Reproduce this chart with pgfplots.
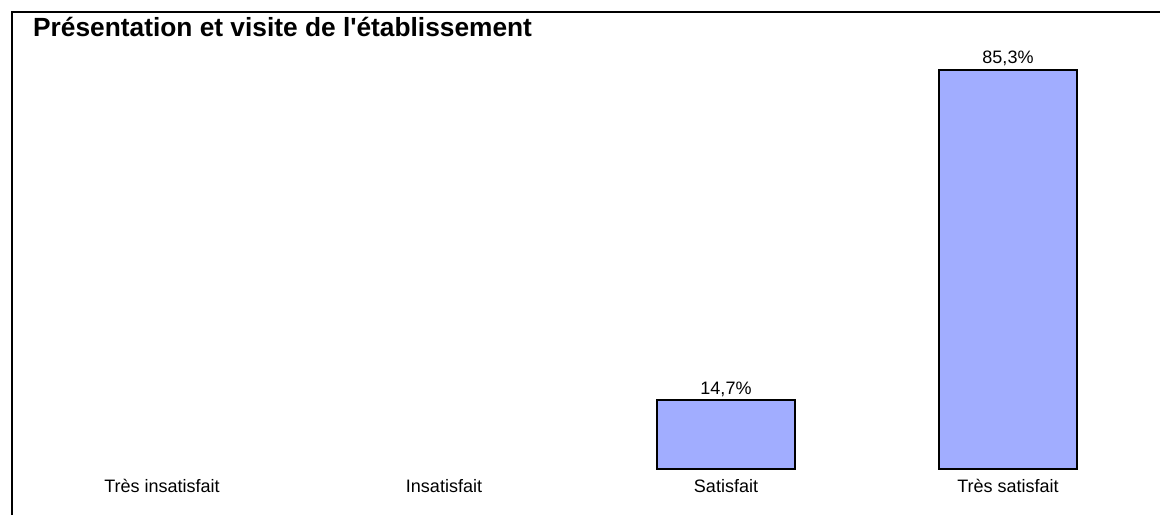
\documentclass[border=0pt]{standalone}
\usepackage{fontspec}
\setmainfont{Liberation Sans}
\usepackage{pgfplots}
\pgfplotsset{compat=1.18}
\definecolor{barfill}{RGB}{161,173,255}
\begin{document}
\begin{tikzpicture}
\useasboundingbox (0,0) rectangle (1160pt,515pt);
\draw[line width=2pt] (11.5pt,0) -- (11.5pt,502.5pt) -- (1160pt,502.5pt);
\node[anchor=base west, inner sep=0pt, font=\fontsize{26.3}{30}\selectfont\bfseries] at (33pt,478pt) {Présentation et visite de l\textquotesingle établissement};
\begin{axis}[
  at={(21pt,46pt)}, anchor=south west,
  scale only axis, width=1128pt, height=468pt,
  xmin=-0.5, xmax=3.5, ymin=0, ymax=100,
  axis line style={draw=none}, tick style={draw=none},
  ytick=\empty,
  xtick={0,1,2,3},
  xticklabels={Très insatisfait, Insatisfait, Satisfait, Très satisfait},
  major tick length=0pt,
  xticklabel style={anchor=base, yshift=-23pt, font=\fontsize{18}{20}\selectfont},
  ybar, bar width=138pt,
  clip=false,
  /pgf/number format/assume math mode=true,
  /pgf/number format/use comma, /pgf/number format/fixed, /pgf/number format/precision=1, /pgf/number format/fixed zerofill,
  nodes near coords={\pgfmathprintnumber{\pgfplotspointmeta}\%},
  nodes near coords style={anchor=base, yshift=6pt, font=\fontsize{18}{20}\selectfont, inner sep=0pt},
]
\addplot[fill=barfill, draw=black, line width=1.6pt] coordinates {(2,14.7) (3,85.3)};
\end{axis}
\end{tikzpicture}
\end{document}
